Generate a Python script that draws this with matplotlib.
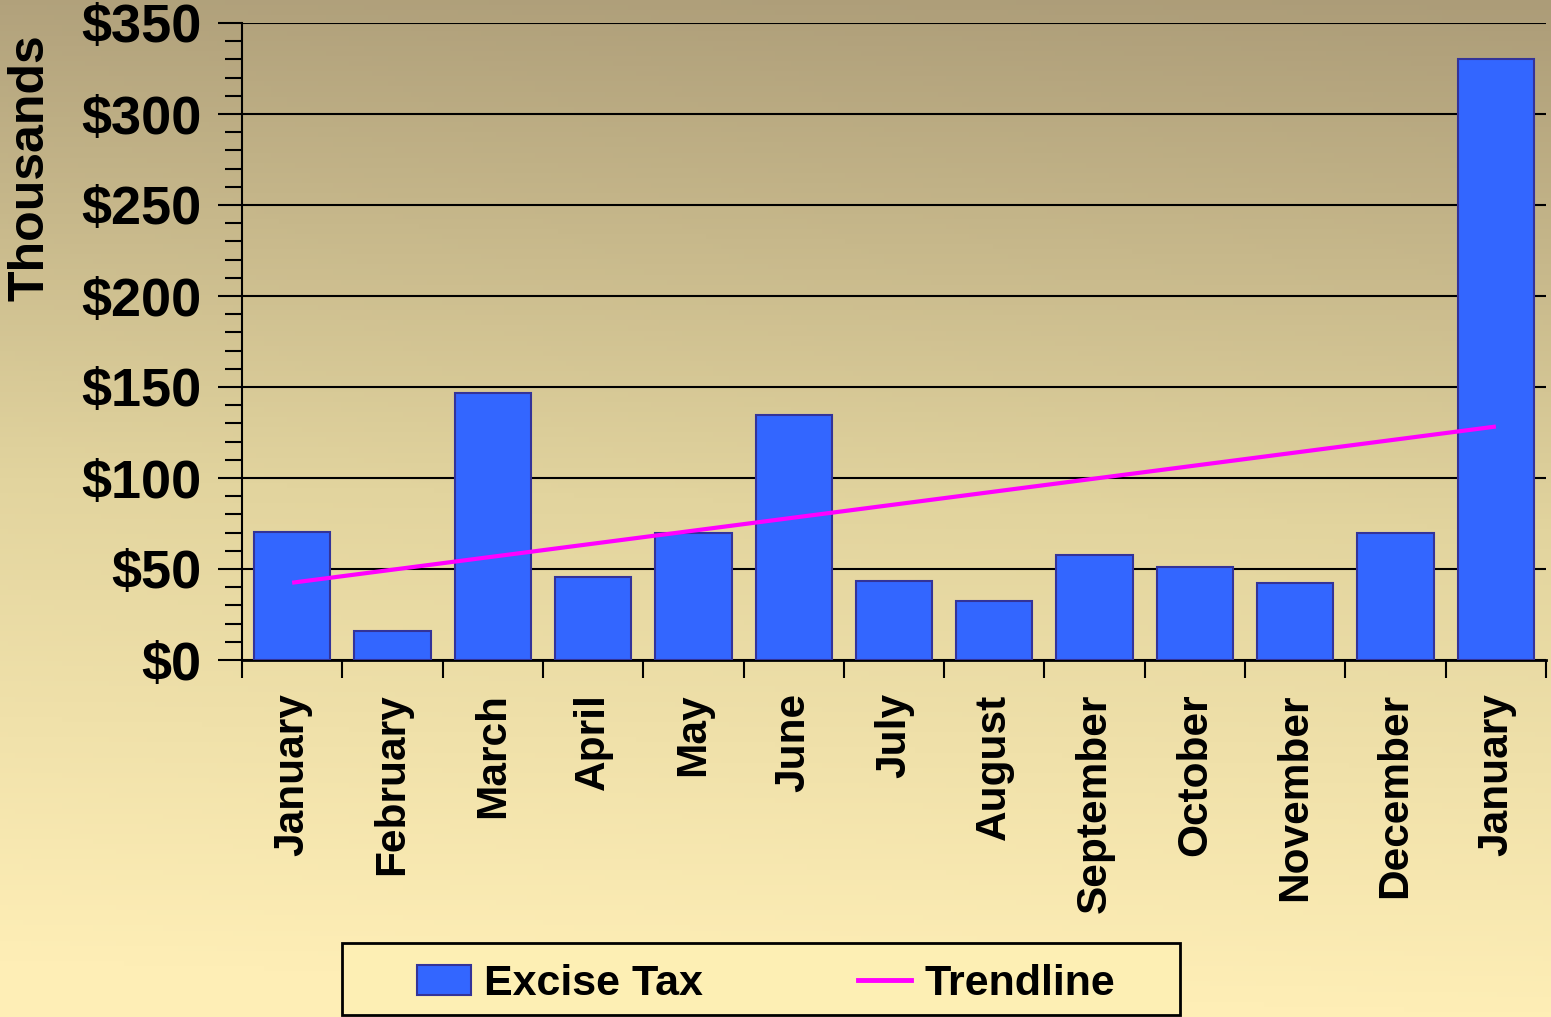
import numpy as np
import matplotlib
matplotlib.use("Agg")
import matplotlib.pyplot as plt
from matplotlib.patches import Rectangle, Patch
from matplotlib.lines import Line2D
from matplotlib.ticker import MultipleLocator, FuncFormatter, FixedLocator

months = ["January", "February", "March", "April", "May", "June", "July",
          "August", "September", "October", "November", "December", "January"]
excise_tax = [70.3, 15.9, 146.7, 45.6, 69.8, 134.6, 43.4, 32.4, 57.7, 51.1, 42.3, 69.8, 330.2]
y_ticks = [0, 50, 100, 150, 200, 250, 300, 350]

plt.rcParams['font.family'] = ['Liberation Sans', 'DejaVu Sans']
plt.rcParams['font.weight'] = 'bold'

W, H = 1551, 1017
fig = plt.figure(figsize=(W / 100, H / 100), dpi=100)

# background gradient
bg = fig.add_axes([0, 0, 1, 1], zorder=-10)
ny, nx = 200, 200
yy, xx = np.mgrid[0:1:ny * 1j, 0:1:nx * 1j]
t = np.clip(yy * 0.92 + (1 - xx) * 0.05, 0, 1)
top = np.array([172, 156, 120]) / 255
mid = np.array([226, 212, 158]) / 255
bot = np.array([254, 238, 182]) / 255
img = np.empty((ny, nx, 3))
for c in range(3):
    img[..., c] = np.interp(t, [0, 0.48, 0.92, 1.0], [top[c], mid[c], bot[c], bot[c]])
bg.imshow(img, aspect='auto', extent=[0, 1, 0, 1], origin='upper')
bg.axis('off')

left, right = 242 / W, 1546 / W
bottom, topy = 1 - 660 / H, 1 - 23 / H
ax = fig.add_axes([left, bottom, right - left, topy - bottom])
ax.set_facecolor('none')

x = np.arange(len(months))
ax.bar(x, excise_tax, width=0.76, color='#3366FF', edgecolor='#333399',
       linewidth=1.5, zorder=3)
coef = np.polyfit(x, excise_tax, 1)
trend = np.polyval(coef, x)
ax.plot(x, trend, color='#FF00FF', linewidth=3, zorder=4,
        solid_capstyle='butt')

ax.set_xlim(-0.5, len(months) - 0.5)
ax.set_ylim(0, 350)
ax.set_yticks(y_ticks)
ax.yaxis.set_minor_locator(MultipleLocator(10))
ax.yaxis.set_major_formatter(FuncFormatter(lambda v, p: f"${v:.0f}"))
ax.grid(axis='y', which='major', color='black', linewidth=1.5, zorder=1)

ax.set_xticks(x)
ax.set_xticklabels(months, rotation=90, fontsize=30.5, fontweight='bold')
ax.xaxis.set_minor_locator(FixedLocator(np.arange(-0.5, len(months), 1.0)))
ax.tick_params(axis='x', which='major', length=0, pad=24)
ax.tick_params(axis='x', which='minor', length=13, width=1.5, direction='out')
ax.tick_params(axis='y', which='major', length=17, width=1.5, direction='out',
               labelsize=39, pad=12)
ax.tick_params(axis='y', which='minor', length=12, width=1.5, direction='out')
for lab in ax.get_yticklabels():
    lab.set_fontweight('bold')

for s in ['top', 'right']:
    ax.spines[s].set_visible(False)
ax.spines['left'].set_linewidth(1.5)
ax.spines['bottom'].set_linewidth(2)
ax.spines['left'].set_bounds(0, 350)

fig.text(30 / W, 1 - 168 / H, "Thousands", rotation=90, ha='center', va='center',
         fontsize=36, fontweight='bold')

# legend frame
fig.patches.append(Rectangle((342 / W, 1 - 1015 / H), (1180 - 342) / W, (1015 - 943) / H,
                             transform=fig.transFigure, facecolor='#FDEFB4',
                             edgecolor='black', linewidth=2, zorder=1))
handles = [Patch(facecolor='#3366FF', edgecolor='#333399', linewidth=1.5),
           Line2D([0], [0], color='#FF00FF', linewidth=3.5)]
leg = fig.legend(handles, ["Excise Tax", "Trendline"], ncol=2, frameon=False,
                 loc='center', bbox_to_anchor=(766 / W, 1 - 984 / H),
                 prop={'size': 31, 'weight': 'bold'}, handlelength=1.25,
                 handleheight=0.7, handletextpad=0.3, columnspacing=3.6)
leg.set_zorder(5)

fig.savefig("out.png", dpi=100)
